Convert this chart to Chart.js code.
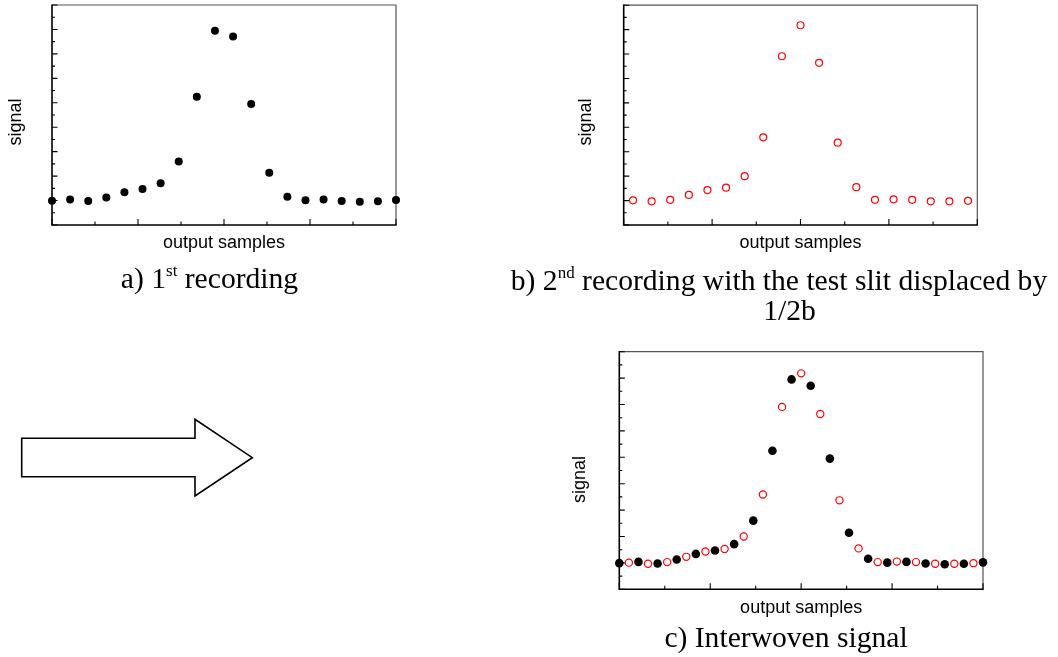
<!DOCTYPE html>
<html><head><meta charset="utf-8">
<script src="https://cdn.jsdelivr.net/npm/chart.js@4.4.0/dist/chart.umd.min.js"></script>
<style>
html,body{margin:0;padding:0;background:#fff;}
#wrap{position:relative;width:1058px;height:657px;overflow:hidden;background:#fff;}
canvas{position:absolute;left:0;top:0;}
svg{position:absolute;left:0;top:0;}
</style></head><body>
<div id="wrap">
<canvas id="ca" width="1058" height="657"></canvas>
<canvas id="cb" width="1058" height="657"></canvas>
<canvas id="cc" width="1058" height="657"></canvas>
<svg width="1058" height="657" xmlns="http://www.w3.org/2000/svg">
<polygon points="21.7,438.3 195,438.3 195,419.3 252.3,457.7 195,496 195,476.7 21.7,476.7" fill="none" stroke="#000" stroke-width="1.6" stroke-linejoin="miter"/>
<g font-family="'Liberation Serif','Times New Roman',serif" font-size="29.6" fill="#000">
<text x="209.5" y="288" text-anchor="middle">a) 1<tspan font-size="17" dy="-12">st</tspan><tspan dy="12"> recording</tspan></text>
<text x="779" y="290" text-anchor="middle">b) 2<tspan font-size="17" dy="-12">nd</tspan><tspan dy="12"> recording with the test slit displaced by</tspan></text>
<text x="789.5" y="320" text-anchor="middle">1/2b</text>
<text x="786" y="647" text-anchor="middle">c) Interwoven signal</text>
</g>
</svg>
</div>
<script>
// ---- data ----
const samples1 = [0,1,2,3,4,5,6,7,8,9,10,11,12,13,14,15,16,17,18,19];
const recording1 = [0.99,1.04,0.98,1.13,1.34,1.47,1.71,2.60,5.25,7.95,7.71,4.95,2.14,1.16,1.01,1.04,0.98,0.95,0.97,1.02];
const samples2 = [0.5,1.5,2.5,3.5,4.5,5.5,6.5,7.5,8.5,9.5,10.5,11.5,12.5,13.5,14.5,15.5,16.5,17.5,18.5];
const recording2 = [1.01,0.97,1.03,1.23,1.43,1.53,2.00,3.59,6.91,8.18,6.64,3.37,1.55,1.03,1.05,1.03,0.97,0.97,0.99];
const xMajorTicks = [0,4.75,9.5,14.25,19];
const xMinorTicks = [2.375,7.125,11.875,16.625];
const yMajorTicks = [0,1,2,3,4,5,6,7,8,9];
const yMinorTicks = [0.5,1.5,2.5,3.5,4.5,5.5,6.5,7.5,8.5];
const xTitle = 'output samples';
const yTitle = 'signal';

const pts = (xs, ys) => xs.map((x, i) => ({x: x, y: ys[i]}));

const framePlugin = {
  id: 'frame',
  beforeDatasetsDraw(chart, args, o) {
    const ctx = chart.ctx, a = chart.chartArea;
    const xs = chart.scales.x, ys = chart.scales.y;
    ctx.save();
    ctx.lineCap = 'butt';
    ctx.strokeStyle = '#555'; ctx.lineWidth = 1.2;
    ctx.beginPath();
    ctx.moveTo(a.left, a.top); ctx.lineTo(a.right, a.top); ctx.lineTo(a.right, a.bottom);
    ctx.stroke();
    ctx.strokeStyle = '#000'; ctx.lineWidth = 1.6;
    ctx.beginPath();
    ctx.moveTo(a.left, a.top - 0.6); ctx.lineTo(a.left, a.bottom); ctx.lineTo(a.right + 0.6, a.bottom);
    ctx.stroke();
    ctx.lineWidth = 1.1; ctx.strokeStyle = '#000';
    ctx.beginPath();
    yMajorTicks.forEach(v => { const y = ys.getPixelForValue(v); ctx.moveTo(a.left, y); ctx.lineTo(a.left + 5.5, y); });
    yMinorTicks.forEach(v => { const y = ys.getPixelForValue(v); ctx.moveTo(a.left, y); ctx.lineTo(a.left + 3, y); });
    xMajorTicks.forEach(v => { const x = xs.getPixelForValue(v); ctx.moveTo(x, a.bottom); ctx.lineTo(x, a.bottom - 6); });
    xMinorTicks.forEach(v => { const x = xs.getPixelForValue(v); ctx.moveTo(x, a.bottom); ctx.lineTo(x, a.bottom - 3.5); });
    ctx.stroke();
    ctx.restore();
  },
  afterDraw(chart, args, o) {
    const ctx = chart.ctx, a = chart.chartArea;
    ctx.save();
    ctx.fillStyle = '#000';
    ctx.font = '18px "Liberation Sans", Arial, sans-serif';
    ctx.textAlign = 'center';
    ctx.textBaseline = 'alphabetic';
    ctx.fillText(xTitle, (a.left + a.right) / 2, a.bottom + o.xTitleDy);
    ctx.translate(a.left - o.yTitleDx, (a.top + a.bottom) / 2 + o.yTitleDy);
    ctx.rotate(-Math.PI / 2);
    ctx.textBaseline = 'middle';
    ctx.fillText(yTitle, 0, 0);
    ctx.restore();
  }
};

function makeChart(id, datasets, pad, frameOpts) {
  return new Chart(document.getElementById(id), {
    type: 'scatter',
    data: { datasets: datasets },
    options: {
      responsive: false,
      animation: false,
      devicePixelRatio: 1,
      layout: { padding: pad },
      plugins: { legend: { display: false }, tooltip: { enabled: false }, frame: frameOpts },
      scales: {
        x: { type: 'linear', min: 0, max: 19, display: false },
        y: { type: 'linear', min: 0, max: 9, display: false }
      },
      events: []
    },
    plugins: [framePlugin]
  });
}

const blackDs = (r) => ({ data: pts(samples1, recording1), showLine: false, pointRadius: r, pointBackgroundColor: '#000', pointBorderColor: '#000', pointBorderWidth: 0, clip: false });
const redDs = (r) => ({ data: pts(samples2, recording2), showLine: false, pointRadius: r, pointBackgroundColor: 'rgba(255,255,255,0)', pointBorderColor: '#ff0000', pointBorderWidth: 1.2, clip: false });

makeChart('ca', [blackDs(4)], { left: 52, top: 5, right: 1058 - 396, bottom: 657 - 225 }, { xTitleDy: 23, yTitleDx: 36, yTitleDy: 7 });
makeChart('cb', [redDs(3.5)], { left: 623.7, top: 5, right: 1058 - 977.3, bottom: 657 - 225 }, { xTitleDy: 23, yTitleDx: 38, yTitleDy: 7 });
makeChart('cc', [redDs(3.6), blackDs(4.3)], { left: 619.3, top: 351.7, right: 1058 - 983, bottom: 657 - 589.3 }, { xTitleDy: 23.5, yTitleDx: 39.5, yTitleDy: 9 });
</script>
</body></html>
